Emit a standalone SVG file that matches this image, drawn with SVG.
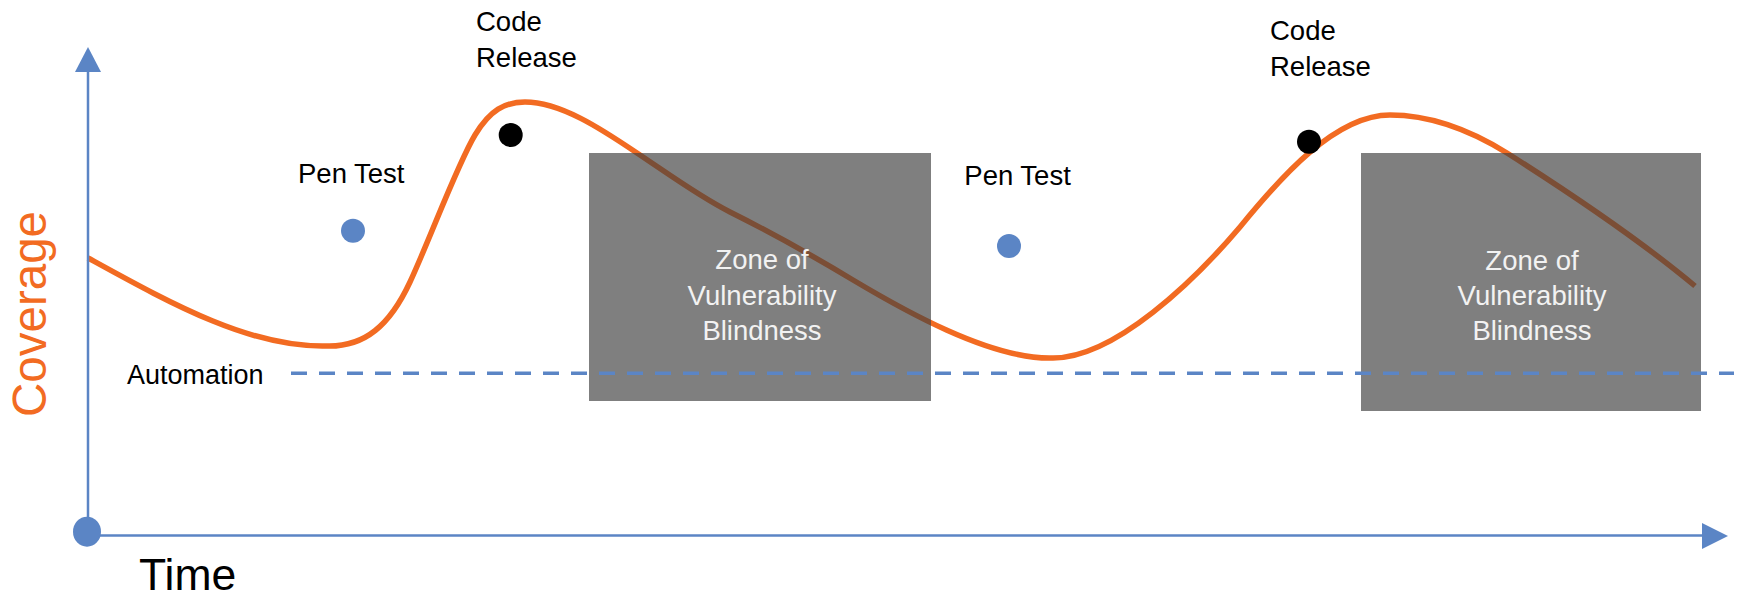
<svg xmlns="http://www.w3.org/2000/svg" width="1742" height="596" viewBox="0 0 1742 596">
  <style>
    .lbl { font-family: "Liberation Sans", Arial, sans-serif; fill: #000000; }
    .zone { font-family: "Liberation Sans", Arial, sans-serif; fill: #F2F2F2; font-size: 27.5px; text-anchor: middle; }
    .axis { stroke: #5B85C5; stroke-width: 2.5; fill: none; }
    .blue { fill: #5B85C5; }
    .box { fill: #404040; fill-opacity: 0.67; }
    .dot { fill: #000000; }
  </style>
  <rect x="0" y="0" width="1742" height="596" fill="#FFFFFF"/>

  <g id="connectors">
    <!-- coverage curve -->
    <path id="coverage-curve" fill="none" stroke="#F26B22" stroke-width="5.5"
      d="M88,258 C170,303 250,348 327,346 C365,347 390,325 410,282 C430,239 457,165 475,135 C490,110 505,102 525,102 C560,102 600,128 637,153 C670,175 700,197 730,212 C760,227 800,248 853,280 C900,308 990,360 1053,358 C1115,358 1195,280 1240,227 C1280,178 1335,115 1390,115 C1430,115 1470,130 1507,153 C1570,193 1640,240 1695,286"/>
    <!-- axes -->
    <line class="axis" x1="88" y1="532" x2="88" y2="70"/>
    <polygon class="blue" points="88,47 75,72 101,72"/>
    <line class="axis" x1="87" y1="535.5" x2="1704" y2="535.5"/>
    <polygon class="blue" points="1728,536 1702,523 1702,549"/>
  </g>

  <g id="zone1">
    <rect class="box" x="589" y="153" width="342" height="248"/>
  </g>
  <g id="zone2">
    <rect class="box" x="1361" y="153" width="340" height="258"/>
  </g>

  <g id="automation">
    <line x1="291" y1="373.3" x2="1734" y2="373.3" stroke="#5B85C5" stroke-width="3.5" stroke-dasharray="16 12"/>
    <text class="lbl" x="127" y="384.3" font-size="27">Automation</text>
  </g>

  <g id="zone1-label">
    <text class="zone" x="762" y="269.3">Zone of</text>
    <text class="zone" x="762" y="305">Vulnerability</text>
    <text class="zone" x="762" y="340">Blindness</text>
  </g>
  <g id="zone2-label">
    <text class="zone" x="1532" y="270">Zone of</text>
    <text class="zone" x="1532" y="305">Vulnerability</text>
    <text class="zone" x="1532" y="340">Blindness</text>
  </g>

  <g id="origin">
    <ellipse class="blue" cx="87" cy="531.7" rx="14" ry="15"/>
  </g>

  <g id="pentest1">
    <text class="lbl" x="298" y="183.3" font-size="27.5">Pen Test</text>
    <circle class="blue" cx="353" cy="230.7" r="12"/>
  </g>
  <g id="pentest2">
    <text class="lbl" x="964.3" y="185" font-size="27.5">Pen Test</text>
    <circle class="blue" cx="1009" cy="246" r="12"/>
  </g>

  <g id="release1">
    <text class="lbl" x="476" y="30.7" font-size="27.5">Code</text>
    <text class="lbl" x="476" y="66.7" font-size="27.5">Release</text>
    <circle class="dot" cx="510.7" cy="135" r="12"/>
  </g>
  <g id="release2">
    <text class="lbl" x="1270" y="40" font-size="27.5">Code</text>
    <text class="lbl" x="1270" y="76" font-size="27.5">Release</text>
    <circle class="dot" cx="1309" cy="141.7" r="12"/>
  </g>

  <g id="y-label">
    <text transform="translate(45.5,314) rotate(-90)" x="0" y="0" font-family="Liberation Sans, Arial, sans-serif" font-size="47.5" fill="#F26B22" text-anchor="middle">Coverage</text>
  </g>
  <g id="x-label">
    <text class="lbl" x="139" y="590" font-size="44.5">Time</text>
  </g>
</svg>
